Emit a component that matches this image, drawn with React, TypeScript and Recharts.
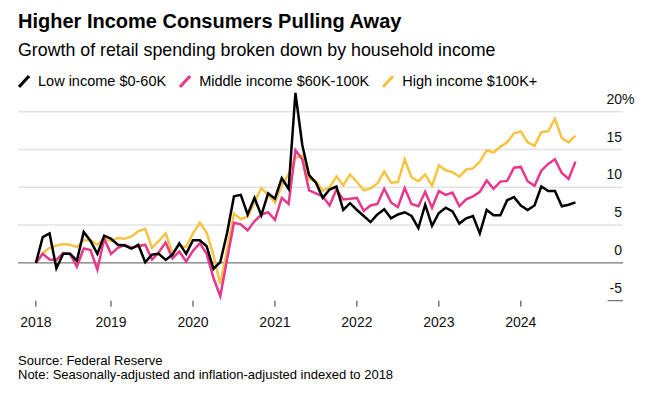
import React from 'react';
import { LineChart, Line, XAxis, YAxis, ReferenceLine } from 'recharts';

// Monthly growth (%) since Feb 2018, indexed, by household income
const lowIncome = [
  0, 3.4, 3.9, -0.7, 1.2, 1.2, 0.3, 4.1, 2.9, 1.2, 3.6, 3.2,
  2.4, 2.3, 1.9, 2.4, 0.1, 1.1, 1.2, 0.4, 1.1, 2.6, 1.2, 3.0,
  3.0, 2.2, -0.8, 0.1, 4.0, 8.8, 9.0, 6.4, 8.6, 6.3, 9.2, 8.5,
  11.2, 9.8, 22.5, 15.6, 11.6, 10.6, 8.6, 9.7, 10.1, 7.0, 7.9, 7.0,
  6.2, 5.4, 6.4, 7.1, 5.9, 6.4, 6.7, 6.2, 4.6, 7.7, 4.9, 6.6,
  7.3, 6.8, 5.2, 5.9, 6.2, 3.9, 7.0, 6.3, 6.3, 8.3, 8.7, 7.6,
  7.0, 7.6, 10.1, 9.5, 9.5, 7.5, 7.7, 8.0,
];

const middleIncome = [
  0, 1.2, 0.45, 0.4, 1.3, 1.2, -0.5, 1.9, 1.7, -0.9, 3.2, 1.2,
  2.0, 2.4, 2.0, 2.2, 2.4, 0.45, 1.4, 2.7, 0.6, 1.5, 0.2, 1.6,
  2.6, 1.2, -2.0, -4.4, 0.5, 5.3, 5.1, 4.3, 5.5, 6.4, 6.7, 5.7,
  8.6, 7.8, 14.9, 13.7, 9.6, 9.2, 8.8, 7.6, 9.7, 8.4, 8.5, 8.6,
  6.9, 7.6, 7.8, 9.8, 8.0, 7.4, 9.9, 7.8, 7.5, 9.4, 7.3, 9.5,
  9.0, 9.3, 7.5, 8.4, 8.8, 9.4, 10.9, 9.8, 10.75, 10.85, 12.6, 12.7,
  10.8, 10.2, 12.2, 13.1, 13.7, 11.9, 11.1, 13.4,
];

const highIncome = [
  0, 1.3, 2.0, 2.3, 2.5, 2.4, 2.1, 3.0, 3.0, 2.4, 3.2, 2.9,
  3.3, 3.2, 3.5, 4.2, 4.5, 2.0, 2.9, 3.9, 1.3, 2.3, 2.1, 3.9,
  5.3, 4.0, 1.0, -2.8, 1.8, 6.5, 5.8, 6.1, 8.0, 9.9, 9.0, 8.0,
  10.3, 11.7, 13.9, 14.2, 11.1, 10.8, 9.55, 10.0, 11.45, 10.25, 11.7, 10.7,
  9.6, 9.85, 10.5, 12.1, 10.6, 10.7, 13.7, 11.3, 10.8, 11.7, 10.2, 12.9,
  12.25, 12.0, 11.4, 12.35, 12.5, 13.4, 14.9, 14.6, 15.35, 15.95, 17.15, 17.4,
  15.95, 15.5, 17.3, 17.4, 19.05, 16.5, 15.95, 16.85,
];

const yearLabels = ['2018', '2019', '2020', '2021', '2022', '2023', '2024'];
const yearTickIndex = [0, 11, 23, 35, 47, 59, 71];
const gridValues = [20, 15, 10, 5];

const COLORS = { low: '#000000', middle: '#e8388c', high: '#f6c343' };
const FONT = '"Liberation Sans", Arial, Helvetica, sans-serif';

const data = lowIncome.map((v, i) => ({
  i,
  low: v,
  middle: middleIncome[i],
  high: highIncome[i],
}));

const legendItems = [
  { name: 'Low income $0-60K', color: COLORS.low },
  { name: 'Middle income $60K-100K', color: COLORS.middle },
  { name: 'High income $100K+', color: COLORS.high },
];

// label sitting above a gridline, right-aligned at the plot edge
const gridLabel = (props: any, value: number) => {
  const vb = props.viewBox || {};
  const right = vb.x + vb.width - 1;
  const y = vb.y - 8;
  return (
    <g>
      <text x={right} y={y} textAnchor="end" fontSize={14} fontFamily={FONT} fill="#111">
        {value}
      </text>
      {value === 20 && (
        <text x={right} y={y} textAnchor="start" fontSize={14} fontFamily={FONT} fill="#111">
          %
        </text>
      )}
    </g>
  );
};

const App: React.FC = () => {
  return (
    <div
      style={{
        position: 'absolute',
        left: 0,
        top: 0,
        width: 672,
        height: 398,
        background: '#fff',
        fontFamily: FONT,
        color: '#000',
      }}
    >
      <div style={{ position: 'absolute', left: 18, top: 11, fontSize: 20, lineHeight: '20px', fontWeight: 700 }}>
        Higher Income Consumers Pulling Away
      </div>
      <div style={{ position: 'absolute', left: 18, top: 41.5, fontSize: 17.8, lineHeight: '17.8px' }}>
        Growth of retail spending broken down by household income
      </div>
      <div
        style={{
          position: 'absolute',
          left: 18,
          top: 72,
          height: 18,
          display: 'flex',
          alignItems: 'center',
          gap: 13,
          fontSize: 14.5,
        }}
      >
        {legendItems.map((item) => (
          <div key={item.name} style={{ display: 'flex', alignItems: 'center' }}>
            <svg width={12} height={13}>
              <line x1={1} y1={12} x2={11} y2={1} stroke={item.color} strokeWidth={3} />
            </svg>
            <span style={{ marginLeft: 8 }}>{item.name}</span>
          </div>
        ))}
      </div>

      <div style={{ position: 'absolute', left: 0, top: 0 }}>
        <LineChart
          width={672}
          height={398}
          data={data}
          margin={{ top: 73.9, right: 49, left: 18, bottom: 67.3 }}
        >
          <XAxis
            dataKey="i"
            type="number"
            domain={[-2.62, 85.96]}
            ticks={yearTickIndex}
            tickFormatter={(v: number) => yearLabels[yearTickIndex.indexOf(v)]}
            axisLine={false}
            tickLine={{ stroke: '#333', strokeWidth: 1 }}
            tickSize={6}
            tickMargin={10}
            height={30}
            interval={0}
            tick={{ fontSize: 14, fill: '#111', fontFamily: FONT }}
          />
          <YAxis type="number" domain={[-5, 25]} hide />
          {gridValues.map((v) => (
            <ReferenceLine
              key={v}
              y={v}
              stroke="#e3e3e3"
              strokeWidth={1.5}
              label={(p: any) => gridLabel(p, v)}
            />
          ))}
          <ReferenceLine y={0} stroke="#555" strokeWidth={1} label={(p: any) => gridLabel(p, 0)} />
          <ReferenceLine
            segment={[{ x: 83.7, y: -5 }, { x: 85.96, y: -5 }]}
            stroke="#555"
            strokeWidth={1}
            label={(p: any) => gridLabel(p, -5)}
          />
          <Line type="linear" dataKey="high" stroke={COLORS.high} strokeWidth={2.5} dot={false} isAnimationActive={false} />
          <Line type="linear" dataKey="middle" stroke={COLORS.middle} strokeWidth={2.5} dot={false} isAnimationActive={false} />
          <Line type="linear" dataKey="low" stroke={COLORS.low} strokeWidth={2.5} dot={false} isAnimationActive={false} />
        </LineChart>
      </div>

      <div style={{ position: 'absolute', left: 18, top: 353.5, fontSize: 13, lineHeight: '14px' }}>
        <div>Source: Federal Reserve</div>
        <div>Note: Seasonally-adjusted and inflation-adjusted indexed to 2018</div>
      </div>
    </div>
  );
};

export default App;
